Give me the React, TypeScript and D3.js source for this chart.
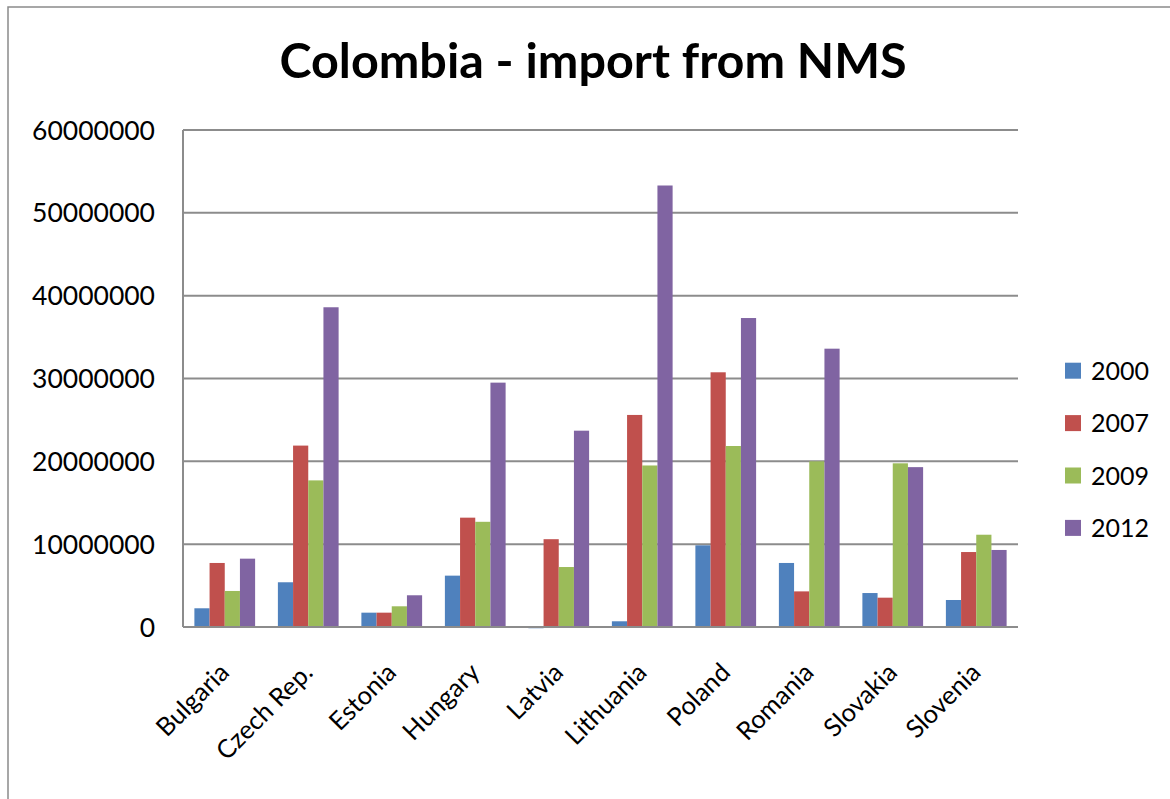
import React from "react";
import * as d3 from "d3";

// Colombia imports from the New Member States, by partner country and year
const countries = [
  "Bulgaria",
  "Czech Rep.",
  "Estonia",
  "Hungary",
  "Latvia",
  "Lithuania",
  "Poland",
  "Romania",
  "Slovakia",
  "Slovenia",
];
const years = ["2000", "2007", "2009", "2012"];

const values2000 = [2260000, 5400000, 1730000, 6200000, -150000, 690000, 9860000, 7730000, 4100000, 3260000];
const values2007 = [7730000, 21900000, 1730000, 13200000, 10600000, 25600000, 30750000, 4300000, 3540000, 9050000];
const values2009 = [4350000, 17700000, 2500000, 12700000, 7240000, 19500000, 21850000, 20000000, 19760000, 11140000];
const values2012 = [8250000, 38600000, 3830000, 29500000, 23700000, 53300000, 37300000, 33600000, 19300000, 9300000];

const yTicks = [0, 10000000, 20000000, 30000000, 40000000, 50000000, 60000000];
const seriesColors = ["#4F81BD", "#C0504D", "#9BBB59", "#8064A2"];

const W = 1170;
const H = 799;
const FONT = "Lato, 'Open Sans', sans-serif";

export default function App() {
  const series = [values2000, values2007, values2009, values2012];

  const x = d3.scaleBand<string>().domain(countries).range([183, 1018]).padding(0);
  const xInner = d3
    .scaleBand<string>()
    .domain(years)
    .range([0, x.bandwidth()])
    .paddingInner(0)
    .paddingOuter(0.75);
  const y = d3.scaleLinear().domain([0, 60000000]).range([627, 130]);
  const [x0, x1] = x.range();

  return (
    <svg
      width={W}
      height={H}
      style={{ position: "absolute", left: 0, top: 0, background: "#fff" }}
      fontFamily={FONT}
    >
      {/* chart frame */}
      <rect x={8} y={7} width={W + 20} height={H + 20} fill="#fff" stroke="#8a8a8a" strokeWidth={1.5} />

      {/* title */}
      <text x={593} y={78} textAnchor="middle" fontSize={48.5} fontWeight={700} fill="#000">
        Colombia - import from NMS
      </text>

      {/* gridlines and y labels */}
      {yTicks.map((t) => (
        <g key={t}>
          <line x1={x0} x2={x1} y1={y(t)} y2={y(t)} stroke="#8c8c8c" strokeWidth={2} />
          <text x={155} y={y(t)} dy="0.36em" textAnchor="end" fontSize={26.5} fill="#000">
            {t}
          </text>
        </g>
      ))}
      {/* y axis */}
      <line x1={x0} x2={x0} y1={y(60000000)} y2={y(0)} stroke="#8c8c8c" strokeWidth={2} />

      {/* bars */}
      {series.map((vals, si) =>
        vals.map((v, ci) => {
          const bx = (x(countries[ci]) ?? 0) + (xInner(years[si]) ?? 0);
          const top = Math.min(y(v), y(0));
          const h = Math.abs(y(v) - y(0));
          return (
            <rect
              key={`${si}-${ci}`}
              x={bx}
              y={top}
              width={xInner.bandwidth()}
              height={h}
              fill={seriesColors[si]}
            />
          );
        })
      )}

      {/* x axis */}
      <line x1={x0} x2={x1} y1={y(0)} y2={y(0)} stroke="#8c8c8c" strokeWidth={2} />

      {/* category labels */}
      {countries.map((c) => {
        const cx = (x(c) ?? 0) + x.bandwidth() / 2 + 6;
        const cy = 674;
        return (
          <text
            key={c}
            x={cx}
            y={cy}
            textAnchor="end"
            fontSize={25.5}
            fill="#000"
            transform={`rotate(-45, ${cx}, ${cy})`}
          >
            {c}
          </text>
        );
      })}

      {/* legend */}
      {years.map((yr, i) => {
        const ly = 370.7 + i * 52.4;
        return (
          <g key={yr}>
            <rect x={1065} y={ly - 8} width={16} height={16} fill={seriesColors[i]} />
            <text x={1091} y={ly} dy="0.36em" fontSize={25} fill="#000">
              {yr}
            </text>
          </g>
        );
      })}
    </svg>
  );
}
